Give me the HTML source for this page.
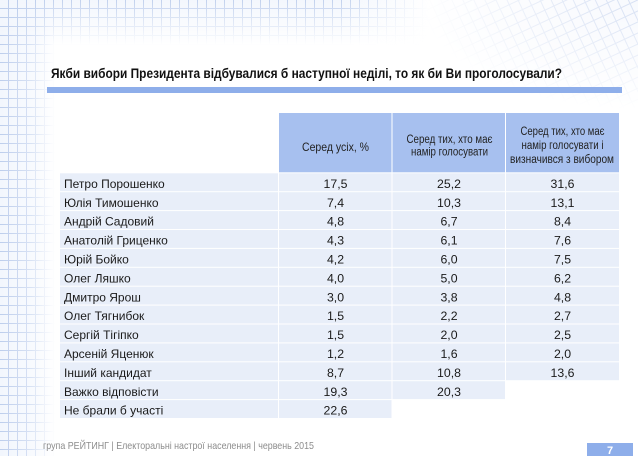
<!DOCTYPE html>
<html><head><meta charset="utf-8"><style>
html,body{margin:0;padding:0;background:#fff;}
svg{display:block;}
text{font-family:"Liberation Sans",Arial,sans-serif;}
</style></head><body>
<svg width="638" height="456" viewBox="0 0 638 456" xmlns="http://www.w3.org/2000/svg">
<defs>
<pattern id="g" width="9" height="9" patternUnits="userSpaceOnUse">
<rect width="9" height="9" fill="#f2f6fd"/>
<path d="M8.5 0V9M0 8.5H9" stroke="#bccdec" stroke-width="1"/>
</pattern>
<pattern id="g2" width="10" height="10" patternUnits="userSpaceOnUse" patternTransform="rotate(-25)">
<rect width="10" height="10" fill="#f6f8fd"/>
<path d="M9.5 0V10M0 9.5H10" stroke="#ccd8f0" stroke-width="1"/>
</pattern>
<linearGradient id="fh" x1="0" x2="1" y1="0" y2="0">
<stop offset="0" stop-color="#fff" stop-opacity="1"/>
<stop offset="0.55" stop-color="#fff" stop-opacity="0.6"/>
<stop offset="1" stop-color="#fff" stop-opacity="0"/>
</linearGradient>
<linearGradient id="fv" x1="0" x2="0" y1="0" y2="1">
<stop offset="0" stop-color="#fff" stop-opacity="0.9"/>
<stop offset="0.5" stop-color="#fff" stop-opacity="0.45"/>
<stop offset="1" stop-color="#fff" stop-opacity="0"/>
</linearGradient>
<linearGradient id="fh2" x1="0" x2="1" y1="0" y2="0">
<stop offset="0" stop-color="#fff" stop-opacity="1"/>
<stop offset="0.8" stop-color="#fff" stop-opacity="1"/>
<stop offset="1" stop-color="#fff" stop-opacity="0"/>
</linearGradient>
<radialGradient id="fr" cx="1" cy="0" r="1">
<stop offset="0" stop-color="#fff" stop-opacity="0.8"/>
<stop offset="0.6" stop-color="#fff" stop-opacity="0.35"/>
<stop offset="1" stop-color="#fff" stop-opacity="0"/>
</radialGradient>
<mask id="mL"><rect x="0" y="0" width="55" height="456" fill="url(#fh)"/></mask>
<mask id="mT"><rect x="0" y="0" width="430" height="45" fill="url(#fv)"/></mask>
<mask id="mT2"><rect x="0" y="0" width="430" height="45" fill="url(#fh2)"/></mask>
<mask id="mR"><rect x="420" y="0" width="218" height="110" fill="url(#fr)"/></mask>
</defs>

<!-- background grids -->
<rect x="0" y="0" width="55" height="456" fill="url(#g)" mask="url(#mL)"/>
<g mask="url(#mT2)"><rect x="0" y="0" width="430" height="45" fill="url(#g)" mask="url(#mT)"/></g>
<rect x="420" y="0" width="218" height="110" fill="url(#g2)" mask="url(#mR)"/>

<!-- title -->
<text x="51" y="78" font-size="13.5" font-weight="bold" fill="#111" textLength="511" lengthAdjust="spacingAndGlyphs">Якби вибори Президента відбувалися б наступної неділі, то як би Ви проголосували?</text>
<rect x="47" y="87" width="575" height="6" fill="#8eaeea"/>

<!-- header cells -->
<rect x="279" y="113" width="112.5" height="59.3" fill="#a7c0ef"/>
<rect x="392.5" y="113" width="112.5" height="59.3" fill="#a7c0ef"/>
<rect x="506" y="113" width="113" height="59.3" fill="#a7c0ef"/>
<g font-size="11.5" fill="#222" text-anchor="middle">
<text x="335.5" y="151" textLength="67" lengthAdjust="spacingAndGlyphs">Серед усіх, %</text>
<text x="449.5" y="143" textLength="86" lengthAdjust="spacingAndGlyphs">Серед тих, хто має</text>
<text x="449.5" y="155.5" textLength="77" lengthAdjust="spacingAndGlyphs">намір голосувати</text>
<text x="562.5" y="135" textLength="84" lengthAdjust="spacingAndGlyphs">Серед тих, хто має</text>
<text x="562.5" y="149" textLength="82" lengthAdjust="spacingAndGlyphs">намір голосувати і</text>
<text x="562" y="163" textLength="104" lengthAdjust="spacingAndGlyphs">визначився з вибором</text>
</g>

<!-- data cells -->
<g fill="#e8eef9">
<rect x="60" y="173.3" width="218" height="17.9"/><rect x="279" y="173.3" width="112.5" height="17.9"/><rect x="392.5" y="173.3" width="112.5" height="17.9"/><rect x="506" y="173.3" width="113" height="17.9"/>
<rect x="60" y="192.2" width="218" height="17.9"/><rect x="279" y="192.2" width="112.5" height="17.9"/><rect x="392.5" y="192.2" width="112.5" height="17.9"/><rect x="506" y="192.2" width="113" height="17.9"/>
<rect x="60" y="211.1" width="218" height="17.9"/><rect x="279" y="211.1" width="112.5" height="17.9"/><rect x="392.5" y="211.1" width="112.5" height="17.9"/><rect x="506" y="211.1" width="113" height="17.9"/>
<rect x="60" y="230.0" width="218" height="17.9"/><rect x="279" y="230.0" width="112.5" height="17.9"/><rect x="392.5" y="230.0" width="112.5" height="17.9"/><rect x="506" y="230.0" width="113" height="17.9"/>
<rect x="60" y="248.9" width="218" height="17.9"/><rect x="279" y="248.9" width="112.5" height="17.9"/><rect x="392.5" y="248.9" width="112.5" height="17.9"/><rect x="506" y="248.9" width="113" height="17.9"/>
<rect x="60" y="267.8" width="218" height="17.9"/><rect x="279" y="267.8" width="112.5" height="17.9"/><rect x="392.5" y="267.8" width="112.5" height="17.9"/><rect x="506" y="267.8" width="113" height="17.9"/>
<rect x="60" y="286.7" width="218" height="17.9"/><rect x="279" y="286.7" width="112.5" height="17.9"/><rect x="392.5" y="286.7" width="112.5" height="17.9"/><rect x="506" y="286.7" width="113" height="17.9"/>
<rect x="60" y="305.6" width="218" height="17.9"/><rect x="279" y="305.6" width="112.5" height="17.9"/><rect x="392.5" y="305.6" width="112.5" height="17.9"/><rect x="506" y="305.6" width="113" height="17.9"/>
<rect x="60" y="324.5" width="218" height="17.9"/><rect x="279" y="324.5" width="112.5" height="17.9"/><rect x="392.5" y="324.5" width="112.5" height="17.9"/><rect x="506" y="324.5" width="113" height="17.9"/>
<rect x="60" y="343.4" width="218" height="17.9"/><rect x="279" y="343.4" width="112.5" height="17.9"/><rect x="392.5" y="343.4" width="112.5" height="17.9"/><rect x="506" y="343.4" width="113" height="17.9"/>
<rect x="60" y="362.3" width="218" height="17.9"/><rect x="279" y="362.3" width="112.5" height="17.9"/><rect x="392.5" y="362.3" width="112.5" height="17.9"/><rect x="506" y="362.3" width="113" height="17.9"/>
<rect x="60" y="381.2" width="218" height="17.9"/><rect x="279" y="381.2" width="112.5" height="17.9"/><rect x="392.5" y="381.2" width="112.5" height="17.9"/>
<rect x="60" y="400.1" width="218" height="17.9"/><rect x="279" y="400.1" width="112.5" height="17.9"/>
</g>

<!-- names -->
<g font-size="12" fill="#1a1a1a">
<text x="64" y="187.9">Петро Порошенко</text>
<text x="64" y="206.8">Юлія Тимошенко</text>
<text x="64" y="225.7">Андрій Садовий</text>
<text x="64" y="244.6">Анатолій Гриценко</text>
<text x="64" y="263.5">Юрій Бойко</text>
<text x="64" y="282.4">Олег Ляшко</text>
<text x="64" y="301.3">Дмитро Ярош</text>
<text x="64" y="320.2">Олег Тягнибок</text>
<text x="64" y="339.1">Сергій Тігіпко</text>
<text x="64" y="358.0">Арсеній Яценюк</text>
<text x="64" y="376.9">Інший кандидат</text>
<text x="64" y="395.8">Важко відповісти</text>
<text x="64" y="414.7">Не брали б участі</text>
</g>

<!-- values -->
<g font-size="12.3" fill="#1a1a1a" text-anchor="middle">
<text x="335.5" y="187.9">17,5</text><text x="449" y="187.9">25,2</text><text x="562.5" y="187.9">31,6</text>
<text x="335.5" y="206.8">7,4</text><text x="449" y="206.8">10,3</text><text x="562.5" y="206.8">13,1</text>
<text x="335.5" y="225.7">4,8</text><text x="449" y="225.7">6,7</text><text x="562.5" y="225.7">8,4</text>
<text x="335.5" y="244.6">4,3</text><text x="449" y="244.6">6,1</text><text x="562.5" y="244.6">7,6</text>
<text x="335.5" y="263.5">4,2</text><text x="449" y="263.5">6,0</text><text x="562.5" y="263.5">7,5</text>
<text x="335.5" y="282.4">4,0</text><text x="449" y="282.4">5,0</text><text x="562.5" y="282.4">6,2</text>
<text x="335.5" y="301.3">3,0</text><text x="449" y="301.3">3,8</text><text x="562.5" y="301.3">4,8</text>
<text x="335.5" y="320.2">1,5</text><text x="449" y="320.2">2,2</text><text x="562.5" y="320.2">2,7</text>
<text x="335.5" y="339.1">1,5</text><text x="449" y="339.1">2,0</text><text x="562.5" y="339.1">2,5</text>
<text x="335.5" y="358.0">1,2</text><text x="449" y="358.0">1,6</text><text x="562.5" y="358.0">2,0</text>
<text x="335.5" y="376.9">8,7</text><text x="449" y="376.9">10,8</text><text x="562.5" y="376.9">13,6</text>
<text x="335.5" y="395.8">19,3</text><text x="449" y="395.8">20,3</text>
<text x="335.5" y="414.7">22,6</text>
</g>

<!-- footer -->
<text x="43" y="449" font-size="10.5" fill="#8c8c8c" textLength="271" lengthAdjust="spacingAndGlyphs">група РЕЙТИНГ  |  Електоральні настрої населення  |  червень 2015</text>
<rect x="587" y="443" width="46" height="13" fill="#8eaeea"/>
<text x="610" y="454" font-size="11" font-weight="bold" fill="#fff" text-anchor="middle">7</text>
</svg>
</body></html>
